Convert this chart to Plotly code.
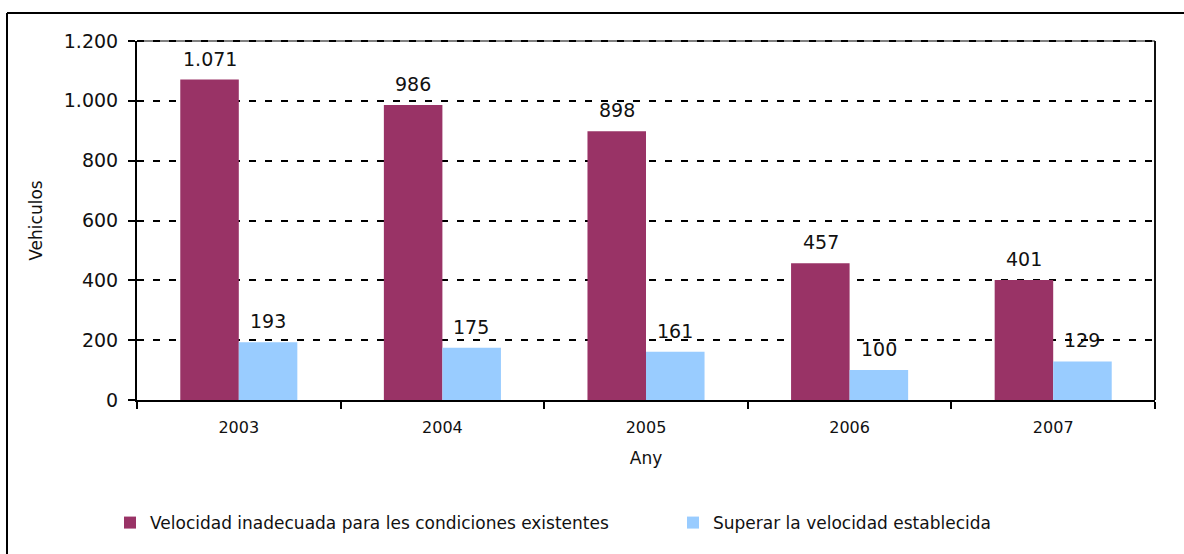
import plotly.graph_objects as go

# Vehicles by year and speed-related cause
years = ["2003", "2004", "2005", "2006", "2007"]
inadecuada = [1071, 986, 898, 457, 401]
superar = [193, 175, 161, 100, 129]
series_names = [
    "Velocidad inadecuada para les condiciones existentes",
    "Superar la velocidad establecida",
]
y_ticks = [0, 200, 400, 600, 800, 1000, 1200]

FONT = "DejaVu Sans"
MAROON = "#993366"
LIGHT_BLUE = "#99CCFF"
TEXT = "#111111"


def fmt(v):
    return f"{v:,}".replace(",", ".")


fig = go.Figure()
fig.add_trace(go.Bar(name=series_names[0], x=years, y=inadecuada, legend="legend",
                     marker=dict(color=MAROON, line=dict(width=0))))
fig.add_trace(go.Bar(name=series_names[1], x=years, y=superar, legend="legend2",
                     marker=dict(color=LIGHT_BLUE, line=dict(width=0))))

# Value labels above each bar; x is the category index on the category axis,
# shifted half a bar width to each side of the category centre
half_bar = 29
annotations = []
for vals, shift in ((inadecuada, -half_bar), (superar, half_bar)):
    for i, v in enumerate(vals):
        annotations.append(dict(
            x=i, y=v, xref="x", yref="y", text=fmt(v), showarrow=False,
            xshift=shift, yshift=21, yanchor="middle",
            font=dict(family=FONT, size=19, color=TEXT),
        ))

shapes = [
    # plot-area border: grey top with the dashed top gridline over it, solid right
    dict(type="line", xref="paper", yref="paper", x0=0, x1=1, y0=1, y1=1,
         line=dict(color="#808080", width=2), layer="below"),
    dict(type="line", xref="paper", yref="paper", x0=0, x1=1, y0=1, y1=1,
         line=dict(color="black", width=2, dash="7px,9px"), layer="above"),
    dict(type="line", xref="paper", yref="paper", x0=1, x1=1, y0=0, y1=1,
         line=dict(color=TEXT, width=2), layer="above"),
    # outer chart frame
    dict(type="line", xref="paper", yref="paper", x0=-0.1277, x1=1.1, y0=1.078, y1=1.078,
         line=dict(color="black", width=2)),
    dict(type="line", xref="paper", yref="paper", x0=-0.1277, x1=-0.1277, y0=1.078, y1=-0.5,
         line=dict(color="black", width=2)),
]

legend_style = dict(orientation="h", xref="container", yref="container",
                    xanchor="left", y=0.0884, yanchor="top",
                    font=dict(family=FONT, size=17, color=TEXT),
                    bgcolor="rgba(0,0,0,0)", borderwidth=0)

fig.update_layout(
    width=1184, height=554,
    margin=dict(l=137, r=29, t=41, b=154),
    paper_bgcolor="white", plot_bgcolor="white",
    barmode="group", bargap=0.425, bargroupgap=0,
    separators=",.",
    font=dict(family=FONT, size=17, color=TEXT),
    showlegend=True,
    legend=dict(x=0.0929, **legend_style),
    legend2=dict(x=0.5684, **legend_style),
    annotations=annotations,
    shapes=shapes,
    xaxis=dict(
        type="category", categoryorder="array", categoryarray=years,
        range=[-0.5, len(years) - 0.5], tickangle=0,
        showgrid=False, showline=True, linecolor="black", linewidth=2,
        ticks="outside", tickson="boundaries", ticklen=7, tickwidth=2, tickcolor="black",
        tickfont=dict(family=FONT, size=16, color=TEXT), ticklabelstandoff=12,
        title=dict(text="Any", font=dict(family=FONT, size=17, color=TEXT), standoff=16),
    ),
    yaxis=dict(
        range=[0, 1200], tickvals=y_ticks, tickformat=",d",
        showgrid=True, gridcolor="black", gridwidth=2, griddash="7px,9px",
        zeroline=False, showline=True, linecolor="black", linewidth=2,
        ticks="outside", ticklen=7, tickwidth=2, tickcolor="black",
        tickfont=dict(family=FONT, size=19, color=TEXT), ticklabelstandoff=6,
        title=dict(text="Vehiculos", font=dict(family=FONT, size=17, color=TEXT), standoff=17),
    ),
)

fig.write_html("out.html")
